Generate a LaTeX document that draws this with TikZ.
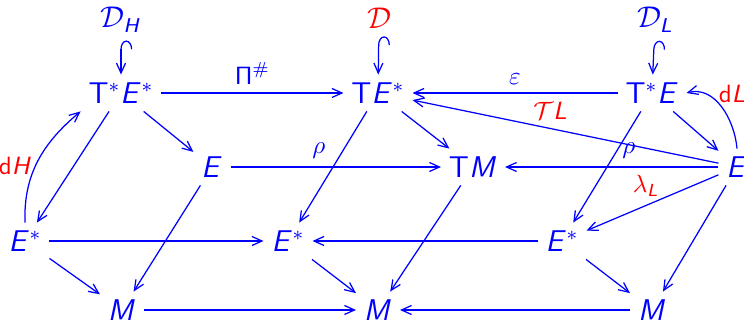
\documentclass[tikz,border=0pt]{standalone}
\usepackage{amsmath}
\usepackage{amssymb}
\usetikzlibrary{arrows.meta}
\definecolor{azulDiag}{HTML}{0000FF}
\definecolor{rojoDiag}{HTML}{FF0000}
\DeclareMathAlphabet{\mathsfit}{OT1}{cmss}{m}{sl}
\newcommand{\Tg}{\mathsf{T}}
\newcommand{\vE}{\mathsfit{E}}

\begin{document}
\begin{tikzpicture}[x=0.4pt, y=-0.4pt,
        obj/.style={text=azulDiag, inner sep=3pt, font=\fontsize{11.5}{14}\selectfont},
        map/.style={draw=azulDiag, line width=0.5pt, -{Straight Barb[length=4pt, width=3.6pt]}},
        hookmap/.style={draw=azulDiag, line width=0.5pt, {Hooks[right, length=3.5pt, width=9pt]}-{Straight Barb[length=4pt, width=3.6pt]}},
        lbl/.style={text=azulDiag, font=\normalsize},
        lblred/.style={text=rojoDiag, font=\normalsize}
    ]
        \useasboundingbox (0,0) rectangle (744,324);
        % top row: distributions
        \node[obj] (DH) at (121,20) {$\mathcal{D}_{\mathsfit{H}}$};
        \node[obj, text=rojoDiag] (D) at (379,18) {$\mathcal{D}$};
        \node[obj] (DL) at (655,20) {$\mathcal{D}_{\mathsfit{L}}$};
        % second row
        \node[obj] (TsEs) at (121,93) {$\Tg^*\vE^*$};
        \node[obj] (TEs) at (378,93) {$\Tg\vE^*$};
        \node[obj] (TsE) at (652,93) {$\Tg^*\vE$};
        % third row
        \node[obj] (Ea) at (212,167) {$\vE$};
        \node[obj] (TM) at (473,167) {$\Tg\mathsfit{M}$};
        \node[obj] (Eb) at (737,167) {$\vE$};
        % fourth row
        \node[obj] (Esa) at (25,241) {$\vE^*$};
        \node[obj] (Esb) at (288,241) {$\vE^*$};
        \node[obj] (Esc) at (562,241) {$\vE^*$};
        % bottom row
        \node[obj] (Ma) at (122,310) {$\mathsfit{M}$};
        \node[obj] (Mb) at (378,310) {$\mathsfit{M}$};
        \node[obj] (Mc) at (652,310) {$\mathsfit{M}$};

        \draw[hookmap] (DH) -- (TsEs);
        \draw[hookmap] (D) -- (TEs);
        \draw[hookmap] (DL) -- (TsE);

        \draw[map] (TsEs) -- node[lbl, above]{$\mathsf{\Pi}^\#$} (TEs);
        \draw[map] (TsE) -- node[lbl, above]{$\varepsilon$} (TEs);
        \draw[map] (Eb) -- node[lblred, above, pos=0.55]{$\mathcal{T}\mathsfit{L}$} (TEs);
        \draw[map] (Ea) -- node[lbl, above, pos=0.42]{$\rho$} (TM);
        \draw[map] (Eb) -- node[lbl, above, pos=0.42]{$\rho$} (TM);
        \draw[map] (Eb) -- node[lblred, above, pos=0.55]{$\lambda_{\mathsfit{L}}$} (Esc);

        \draw[map] (TsEs) -- (Ea);
        \draw[map] (TsEs) -- (Esa);
        \draw[map] (Ea) -- (Ma);
        \draw[map] (Esa) -- (Ma);
        \draw[map] (Esa) -- (Esb);
        \draw[map] (Ma) -- (Mb);

        \draw[map] (TEs) -- (Esb);
        \draw[map] (TEs) -- (TM);
        \draw[map] (TM) -- (Mb);
        \draw[map] (Esb) -- (Mb);

        \draw[map] (TsE) -- (Eb);
        \draw[map] (TsE) -- (Esc);
        \draw[map] (Eb) -- (Mc);
        \draw[map] (Esc) -- (Mc);
        \draw[map] (Esc) -- (Esb);
        \draw[map] (Mc) -- (Mb);

        \draw[map] (Esa.north) to[out=92, in=-140] node[lblred, left, pos=0.45, xshift=2pt]{$\mathsf{d}\mathsfit{H}$} (TsEs.south west);
        \draw[map] (Eb.north) to[out=95, in=15] node[lblred, pos=0.6, anchor=south west, inner sep=1pt, yshift=-2pt]{$\mathsf{d}\mathsfit{L}$} (TsE.east);
    \end{tikzpicture}
\end{document}
